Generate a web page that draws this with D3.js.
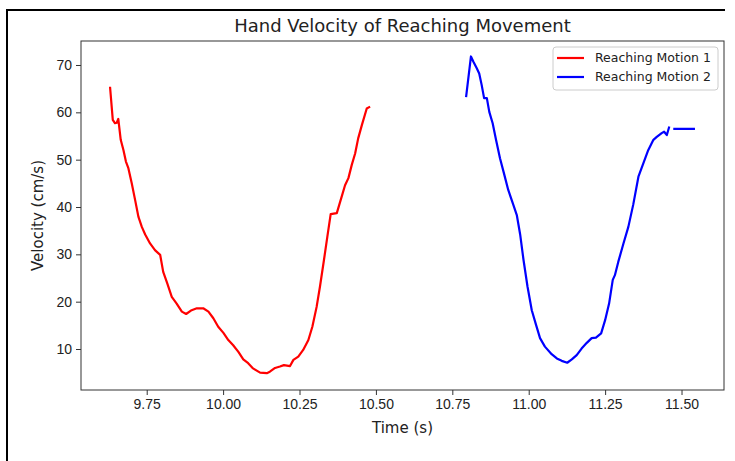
<!DOCTYPE html>
<html>
<head>
<meta charset="utf-8">
<script src="https://cdn.jsdelivr.net/npm/d3@7"></script>
<style>
  body { margin: 0; background: #fff; }
  svg { display: block; font-family: "DejaVu Sans", sans-serif; }
  .axis text { fill: #222; font-size: 14px; }
  .axis path, .axis line { stroke: #333; }
</style>
</head>
<body>
<div id="chart"></div>
<script>
//DATA
const time1 = [9.630, 9.639, 9.646, 9.652, 9.657, 9.665, 9.674, 9.682, 9.690, 9.701, 9.712, 9.723, 9.734, 9.745, 9.761, 9.777, 9.794, 9.804, 9.817, 9.832, 9.848, 9.865, 9.879, 9.897, 9.914, 9.935, 9.952, 9.968, 9.984, 10.001, 10.017, 10.033, 10.050, 10.066, 10.082, 10.098, 10.121, 10.143, 10.153, 10.170, 10.186, 10.199, 10.219, 10.230, 10.246, 10.262, 10.279, 10.292, 10.306, 10.317, 10.330, 10.341, 10.352, 10.372, 10.388, 10.399, 10.410, 10.421, 10.432, 10.442, 10.454, 10.470, 10.481];
const vel1 = [65.4, 58.4, 57.7, 57.8, 58.6, 54.2, 52.0, 49.6, 48.2, 45.0, 41.5, 37.9, 35.8, 34.2, 32.3, 30.9, 29.9, 26.3, 23.9, 21.0, 19.6, 17.9, 17.4, 18.2, 18.6, 18.6, 17.9, 16.5, 14.7, 13.4, 11.9, 10.8, 9.4, 7.8, 7.0, 5.9, 5.0, 4.9, 5.2, 6.0, 6.3, 6.6, 6.4, 7.7, 8.4, 9.8, 11.9, 14.7, 18.9, 23.2, 28.8, 33.7, 38.5, 38.7, 42.2, 44.6, 46.1, 48.9, 51.3, 54.5, 57.3, 60.8, 61.2];

const time2 = [10.795, 10.811, 10.819, 10.830, 10.838, 10.846, 10.854, 10.863, 10.871, 10.882, 10.893, 10.906, 10.919, 10.933, 10.950, 10.961, 10.972, 10.983, 10.996, 11.010, 11.024, 11.037, 11.053, 11.075, 11.092, 11.108, 11.126, 11.141, 11.157, 11.173, 11.190, 11.206, 11.220, 11.237, 11.250, 11.263, 11.275, 11.282, 11.293, 11.310, 11.326, 11.342, 11.359, 11.375, 11.391, 11.408, 11.419, 11.435, 11.443, 11.452, 11.460, 11.466, 11.473, 11.544];
// null = gap in the recording
const vel2 = [63.2, 71.8, 70.7, 69.3, 68.2, 65.8, 63.0, 63.0, 60.1, 57.7, 54.2, 50.3, 47.1, 43.6, 40.4, 38.3, 34.2, 28.8, 23.2, 18.2, 15.1, 12.3, 10.5, 8.9, 8.0, 7.5, 7.1, 7.8, 8.7, 10.1, 11.3, 12.3, 12.4, 13.3, 16.1, 19.6, 24.6, 25.6, 28.4, 32.3, 35.8, 40.5, 46.4, 49.2, 52.0, 54.2, 54.8, 55.6, 55.9, 55.2, 57.0, null, 56.5, 56.5];

const seriesNames = ["Reaching Motion 1", "Reaching Motion 2"];
const seriesColors = ["red", "blue"];
const xTicks = [9.75, 10.0, 10.25, 10.5, 10.75, 11.0, 11.25, 11.5];
const yTicks = [10, 20, 30, 40, 50, 60, 70];

//CONSTANTS
const width = 735, height = 461,
  margin = { top: 41, right: 11, bottom: 71, left: 81 };

const svg = d3.select("#chart").append("svg")
  .attr("width", width)
  .attr("height", height);

// outer frame (only left and top edges show in the crop)
svg.append("line").attr("x1", 7).attr("x2", 7).attr("y1", 9).attr("y2", height)
  .attr("stroke", "#000").attr("stroke-width", 2);
svg.append("line").attr("x1", 6).attr("x2", 725).attr("y1", 10).attr("y2", 10)
  .attr("stroke", "#000").attr("stroke-width", 2);

// SCALES
const xScale = d3.scaleLinear()
  .domain([9.535, 11.639])
  .range([margin.left, width - margin.right]);

const yScale = d3.scaleLinear()
  .domain([1.34, 75.07])
  .range([height - margin.bottom, margin.top]);

// AXES
const xAxis = d3.axisBottom(xScale).tickValues(xTicks).tickFormat(d3.format(".2f")).tickSizeOuter(0).tickSize(5).tickPadding(4);
const yAxis = d3.axisLeft(yScale).tickValues(yTicks).tickFormat(d3.format("d")).tickSizeOuter(0).tickSize(5).tickPadding(4);

svg.append("g")
  .attr("class", "axis")
  .attr("transform", `translate(0,${height - margin.bottom})`)
  .call(xAxis)
  .call(g => g.select(".domain").remove())
  .selectAll("text").attr("font-family", null);

svg.append("g")
  .attr("class", "axis")
  .attr("transform", `translate(${margin.left},0)`)
  .call(yAxis)
  .call(g => g.select(".domain").remove())
  .selectAll("text").attr("font-family", null);

// frame of the plot area
svg.append("rect")
  .attr("x", margin.left)
  .attr("y", margin.top)
  .attr("width", width - margin.right - margin.left)
  .attr("height", height - margin.bottom - margin.top)
  .attr("fill", "none")
  .attr("stroke", "#333")
  .attr("stroke-width", 1);

// LINES
const line = d3.line()
  .defined(d => d.v != null)
  .x(d => xScale(d.t))
  .y(d => yScale(d.v));

const series = [
  time1.map((t, i) => ({ t: t, v: vel1[i] })),
  time2.map((t, i) => ({ t: t, v: vel2[i] }))
];

svg.selectAll(".series")
  .data(series)
  .join("path")
  .attr("class", "series")
  .attr("d", line)
  .attr("fill", "none")
  .attr("stroke", (d, i) => seriesColors[i])
  .attr("stroke-width", 2.2)
  .attr("stroke-linejoin", "round");

// TITLES
svg.append("text")
  .attr("x", (margin.left + width - margin.right) / 2)
  .attr("y", 32)
  .attr("text-anchor", "middle")
  .attr("font-size", 18)
  .attr("fill", "#222")
  .text("Hand Velocity of Reaching Movement");

svg.append("text")
  .attr("x", (margin.left + width - margin.right) / 2)
  .attr("y", 433)
  .attr("text-anchor", "middle")
  .attr("font-size", 15)
  .attr("fill", "#222")
  .text("Time (s)");

svg.append("text")
  .attr("transform", `translate(43,${(margin.top + height - margin.bottom) / 2}) rotate(-90)`)
  .attr("text-anchor", "middle")
  .attr("font-size", 15)
  .attr("fill", "#222")
  .text("Velocity (cm/s)");

// LEGEND
const legend = svg.append("g").attr("transform", "translate(553,47)");
legend.append("rect")
  .attr("width", 165).attr("height", 43).attr("rx", 3)
  .attr("fill", "#fff").attr("fill-opacity", 0.8)
  .attr("stroke", "#ccc");

const item = legend.selectAll(".item")
  .data(seriesNames)
  .join("g")
  .attr("class", "item")
  .attr("transform", (d, i) => `translate(0,${11 + i * 19})`);

item.append("line")
  .attr("x1", 4).attr("x2", 31)
  .attr("stroke", (d, i) => seriesColors[i])
  .attr("stroke-width", 2.2);

item.append("text")
  .attr("x", 42).attr("dy", "0.35em")
  .attr("font-size", 12.5)
  .attr("fill", "#222")
  .text(d => d);
</script>
</body>
</html>
